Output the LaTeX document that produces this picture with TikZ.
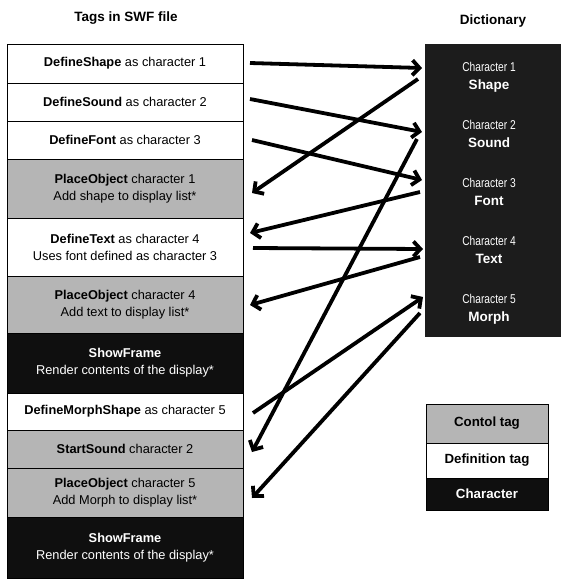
\documentclass[tikz,border=0pt]{standalone}
\usepackage{fontspec}
\setmainfont{Liberation Sans}
\newfontfamily\narrowfont[FakeStretch=0.8]{Liberation Sans}
\usetikzlibrary{arrows.meta,calc}
\definecolor{ctlgray}{gray}{0.71}
\definecolor{charblack}{gray}{0.06}
\definecolor{dictblack}{gray}{0.11}
\begin{document}
\begin{tikzpicture}[x=1pt,y=-1pt,
  row/.style={draw=black, line width=0.9pt, minimum width=236pt, inner sep=0pt, outer sep=0pt, align=center, font=\fontsize{12.8}{17}\selectfont},
  deftag/.style={row, fill=white},
  ctltag/.style={row, fill=ctlgray},
  chartag/.style={row, fill=charblack, text=white},
  legrow/.style={draw=black, line width=0.6pt, minimum width=122pt, inner sep=0pt, outer sep=0pt, font=\bfseries\fontsize{13.3}{15}\selectfont},
  entry/.style={align=center, text=white, inner sep=0pt, font=\fontsize{12.8}{18}\selectfont},
  title/.style={font=\bfseries\fontsize{13.5}{15}\selectfont},
  arr/.style={line width=3.8pt, -{Straight Barb[length=7pt,width=15pt]}},
]
\useasboundingbox (0,0) rectangle (562,582);
\fill[white] (0,0) rectangle (562,582);

% titles
\node[title] (t1) at (126,18) {Tags in SWF file};
\node[title] (t2) at (493,21) {Dictionary};

% left column
\node[deftag, minimum height=39pt] (r1) at (125,63.5) {\textbf{DefineShape} as character 1};
\node[deftag, minimum height=38pt] (r2) at (125,102) {\textbf{DefineSound} as character 2};
\node[deftag, minimum height=38pt] (r3) at (125,140) {\textbf{DefineFont} as character 3};
\node[ctltag, minimum height=59pt] (r4) at (125,188.5) {\textbf{PlaceObject} character 1\\Add shape to display list*};
\node[deftag, minimum height=58pt] (r5) at (125,247) {\textbf{DefineText} as character 4\\Uses font defined as character 3};
\node[ctltag, minimum height=57pt] (r6) at (125,304.5) {\textbf{PlaceObject} character 4\\Add text to display list*};
\node[chartag, minimum height=60pt] (r7) at (125,363) {\textbf{ShowFrame}\\Render contents of the display*};
\node[deftag, minimum height=37pt] (r8) at (125,411.5) {\textbf{DefineMorphShape} as character 5};
\node[ctltag, minimum height=38pt] (r9) at (125,449) {\textbf{StartSound} character 2};
\node[ctltag, minimum height=49pt] (r10) at (125,492.5) {\textbf{PlaceObject} character 5\\Add Morph to display list*};
\node[chartag, minimum height=61pt] (r11) at (125,547.5) {\textbf{ShowFrame}\\Render contents of the display*};

% dictionary
\node[fill=dictblack, minimum width=136pt, minimum height=293pt, inner sep=0pt, outer sep=0pt] (dict) at (493,190.5) {};
\node[entry] (d1) at (489,77) {{\narrowfont Character 1}\\\textbf{\fontsize{13.5}{18}\selectfont Shape}};
\node[entry] (d2) at (489,134) {{\narrowfont Character 2}\\\textbf{\fontsize{13.5}{18}\selectfont Sound}};
\node[entry] (d3) at (489,192) {{\narrowfont Character 3}\\\textbf{\fontsize{13.5}{18}\selectfont Font}};
\node[entry] (d4) at (489,250) {{\narrowfont Character 4}\\\textbf{\fontsize{13.5}{18}\selectfont Text}};
\node[entry] (d5) at (489,309) {{\narrowfont Character 5}\\\textbf{\fontsize{13.5}{18}\selectfont Morph}};

% legend
\node[legrow, fill=ctlgray, minimum height=39pt] (l1) at (487,423.5) {Contol tag};
\node[legrow, fill=white, minimum height=35pt] (l2) at (487,460.5) {Definition tag};
\node[legrow, fill=charblack, text=white, minimum height=32pt] (l3) at (487,494) {Character};

% arrows
\draw[arr] ($(r1.east)+(7,-0.5)$) -- ($(dict.west|-d1)+(-3,-9)$);
\draw[arr] ($(r2.east)+(7,-3)$) -- ($(dict.west|-d2)+(-3,-2)$);
\draw[arr] ($(r3.east)+(9,0)$) -- ($(dict.west|-d3)+(-3,-12)$);
\draw[arr] ($(dict.west|-d1)+(-7,2)$) -- ($(r4.east)+(9,4.5)$);
\draw[arr] ($(dict.west|-d3)+(-5,0)$) -- ($(r5.east)+(7,-14)$);
\draw[arr] ($(r5.east)+(10,1)$) -- ($(dict.west|-d4)+(-2,-1)$);
\draw[arr] ($(dict.west|-d4)+(-5,7)$) -- ($(r6.east)+(7,0.5)$);
\draw[arr] ($(dict.west|-d2)+(-8,5)$) -- ($(r9.east)+(9,3)$);
\draw[arr] ($(r8.east)+(10,1.5)$) -- ($(dict.west|-d5)+(-2,-12)$);
\draw[arr] ($(dict.west|-d5)+(-5,4)$) -- ($(r10.east)+(9,5.5)$);
\end{tikzpicture}
\end{document}
